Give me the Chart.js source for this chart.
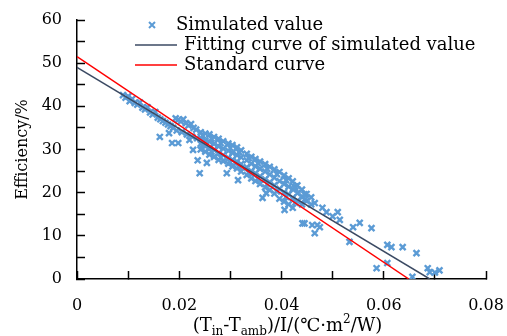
<!DOCTYPE html>
<html>
<head>
<meta charset="utf-8">
<script src="https://cdn.jsdelivr.net/npm/chart.js@4/dist/chart.umd.min.js"></script>
<style>
  body { margin: 0; background: #fff; }
  canvas { display: block; }
</style>
</head>
<body>
<canvas id="chart" width="507" height="336"></canvas>
<script>
// Simulated efficiency points [x, y]
const simulated = [
  [0.0090, 42.6], [0.0095, 42.0], [0.0100, 42.3], [0.0103, 41.2], [0.0108, 41.7], [0.0113, 40.8],
  [0.0118, 40.4], [0.0123, 40.9], [0.0128, 39.7], [0.0133, 39.3], [0.0138, 39.8], [0.0143, 38.6],
  [0.0148, 38.1], [0.0153, 38.7], [0.0158, 37.4], [0.0163, 37.0], [0.0168, 36.6], [0.0173, 36.2],
  [0.0178, 35.8], [0.0183, 35.4], [0.0188, 35.0],
  [0.0193, 37.2], [0.0198, 36.9], [0.0203, 36.5], [0.0208, 37.0], [0.0213, 36.1], [0.0218, 35.6],
  [0.0223, 35.9], [0.0228, 35.0], [0.0233, 34.6],
  [0.0195, 34.4], [0.0205, 34.0], [0.0215, 33.5], [0.0225, 33.0], [0.0235, 32.6],
  [0.0162, 32.9], [0.0180, 33.8], [0.0186, 31.5], [0.0198, 31.5], [0.0220, 32.2], [0.0227, 29.9],
  [0.0236, 27.5], [0.0254, 26.9], [0.0240, 24.5], [0.0293, 24.5], [0.0315, 22.9],
  [0.0242, 34.0], [0.0242, 32.6], [0.0242, 31.3], [0.0242, 30.0],
  [0.0251, 33.7], [0.0251, 32.1], [0.0251, 30.8], [0.0251, 29.5],
  [0.0259, 33.5], [0.0259, 31.8], [0.0259, 30.2], [0.0259, 28.8],
  [0.0268, 32.9], [0.0268, 31.3], [0.0268, 29.9], [0.0268, 28.3],
  [0.0277, 32.5], [0.0277, 30.7], [0.0277, 29.1], [0.0277, 27.6],
  [0.0286, 31.9], [0.0286, 30.2], [0.0286, 28.7], [0.0286, 27.3],
  [0.0296, 31.4], [0.0296, 29.7], [0.0296, 28.1], [0.0296, 26.7],
  [0.0304, 31.0], [0.0304, 29.2], [0.0304, 27.6], [0.0304, 26.1],
  [0.0313, 30.5], [0.0313, 28.7], [0.0313, 27.2], [0.0313, 25.6],
  [0.0321, 29.8], [0.0321, 28.2], [0.0321, 26.6], [0.0321, 24.9],
  [0.0332, 29.0], [0.0332, 27.5], [0.0332, 25.9], [0.0332, 24.1],
  [0.0341, 28.3], [0.0341, 26.7], [0.0341, 25.0], [0.0341, 23.3],
  [0.0349, 27.8], [0.0349, 26.1], [0.0349, 24.5], [0.0349, 22.7],
  [0.0358, 27.2], [0.0358, 25.5], [0.0358, 23.8], [0.0358, 22.0],
  [0.0368, 26.6], [0.0368, 24.9], [0.0368, 23.1], [0.0368, 21.2],
  [0.0377, 26.0], [0.0377, 24.2], [0.0377, 22.4], [0.0377, 20.6],
  [0.0386, 25.4], [0.0386, 23.5], [0.0386, 21.7], [0.0386, 19.8],
  [0.0396, 24.8], [0.0396, 22.7], [0.0396, 20.9], [0.0396, 18.6],
  [0.0405, 24.0], [0.0405, 22.0], [0.0405, 20.1], [0.0405, 17.9],
  [0.0414, 23.3], [0.0414, 21.4], [0.0414, 19.6], [0.0414, 17.3],
  [0.0422, 22.6], [0.0422, 20.8], [0.0422, 18.8], [0.0422, 16.5],
  [0.0431, 21.7], [0.0431, 19.9], [0.0431, 18.1],
  [0.0440, 20.7], [0.0440, 19.1], [0.0440, 17.3],
  [0.0449, 19.7], [0.0449, 18.1], [0.0458, 18.9], [0.0458, 17.3],
  [0.0246, 33.2], [0.0246, 31.0], [0.0263, 32.5], [0.0263, 29.5], [0.0281, 31.5], [0.0281, 28.2],
  [0.0300, 30.3], [0.0300, 27.0], [0.0317, 29.4], [0.0317, 26.0], [0.0336, 28.0], [0.0336, 24.6],
  [0.0354, 26.8], [0.0354, 23.2], [0.0372, 25.5], [0.0372, 22.0], [0.0391, 24.3], [0.0391, 20.3],
  [0.0409, 22.9], [0.0409, 19.0], [0.0427, 21.4], [0.0427, 17.7], [0.0445, 19.6], [0.0445, 18.4],
  [0.0363, 18.8], [0.0370, 19.9], [0.0406, 16.0], [0.0426, 21.0], [0.0441, 19.0], [0.0465, 17.6],
  [0.0480, 16.5], [0.0445, 12.9], [0.0441, 12.9], [0.0460, 12.5], [0.0465, 10.6], [0.0475, 12.0],
  [0.0470, 12.5], [0.0488, 15.5], [0.0510, 15.5], [0.0514, 13.7], [0.0500, 14.5], [0.0553, 13.0],
  [0.0540, 12.0], [0.0576, 11.8], [0.0533, 8.6], [0.0607, 7.9], [0.0615, 7.4], [0.0637, 7.4],
  [0.0664, 6.0], [0.0586, 2.5], [0.0607, 3.7], [0.0656, 0.5], [0.0686, 2.5], [0.0690, 1.6],
  [0.0709, 2.0], [0.0700, 1.5]
];

// Fitted and standard straight lines (end points)
const fitX = [0, 0.069];
const fitY = [49.0, 0];
const stdX = [0, 0.0649];
const stdY = [51.5, 0];

const seriesNames = ["Simulated value", "Fitting curve of simulated value", "Standard curve"];
const seriesColors = ["rgb(91,155,213)", "#3b4a63", "#ff0000"];

const FONT = "'DejaVu Serif', 'Liberation Serif', serif";

function toPoints(xs, ys) {
    return xs.map((v, i) => ({x: v, y: ys[i]}));
}

// draws the legend inside the plot and the x title with subscripts
const decorPlugin = {
    id: "decor",
    afterDraw(chart) {
        let ctx = chart.ctx;
        let area = chart.chartArea;
        ctx.save();

        // legend
        ctx.font = "18px " + FONT;
        ctx.textBaseline = "middle";
        ctx.fillStyle = "#000";
        let rows = [25, 45, 65];
        chart.data.datasets.forEach((ds, i) => {
            let cy = rows[i];
            ctx.strokeStyle = ds.borderColor;
            ctx.beginPath();
            if (i === 0) {
                ctx.lineWidth = 2;
                ctx.moveTo(149, cy - 3); ctx.lineTo(155, cy + 3);
                ctx.moveTo(155, cy - 3); ctx.lineTo(149, cy + 3);
                ctx.stroke();
                ctx.fillText(ds.label, 176, cy);
            } else {
                ctx.lineWidth = 1.5;
                ctx.moveTo(135, cy); ctx.lineTo(177, cy);
                ctx.stroke();
                ctx.fillText(ds.label, 184, cy);
            }
        });

        // x axis title: (T_in-T_amb)/I/(℃·m²/W)
        let parts = [["(T", 0], ["in", 1], ["-T", 0], ["amb", 1], [")/I/(℃·m", 0], ["2", 2], ["/W)", 0]];
        let total = 0;
        parts.forEach(p => {
            ctx.font = (p[1] ? "12px " : "18px ") + FONT;
            total += ctx.measureText(p[0]).width;
        });
        let x0 = (area.left + area.right) / 2 - total / 2 + 6;
        let base = 331;
        ctx.textBaseline = "alphabetic";
        parts.forEach(p => {
            ctx.font = (p[1] ? "12px " : "18px ") + FONT;
            let dy = p[1] === 1 ? 4 : (p[1] === 2 ? -8 : 0);
            ctx.fillText(p[0], x0, base + dy);
            x0 += ctx.measureText(p[0]).width;
        });

        ctx.restore();
    }
};

// tick marks point into the plot: negative tick length
const innerGrid = {
    display: true,
    drawOnChartArea: false,
    drawTicks: true,
    tickLength: -8,
    tickWidth: 1.5,
    tickColor: "#000"
};

new Chart(document.getElementById("chart"), {
    type: "scatter",
    data: {
        datasets: [
            {
                label: seriesNames[0],
                data: simulated.map(p => ({x: p[0], y: p[1]})),
                pointStyle: "crossRot",
                pointRadius: 4.2,
                borderColor: seriesColors[0],
                backgroundColor: seriesColors[0],
                pointBorderWidth: 2.4,
                order: 2
            },
            {
                label: seriesNames[1],
                type: "line",
                data: toPoints(fitX, fitY),
                borderColor: seriesColors[1],
                borderWidth: 1.5,
                pointRadius: 0,
                order: 1
            },
            {
                label: seriesNames[2],
                type: "line",
                data: toPoints(stdX, stdY),
                borderColor: seriesColors[2],
                borderWidth: 1.5,
                pointRadius: 0,
                order: 0
            }
        ]
    },
    options: {
        responsive: false,
        animation: false,
        devicePixelRatio: 1,
        layout: {
            padding: {top: 20, right: 21, left: 7, bottom: 0}
        },
        plugins: {
            legend: {display: false},
            tooltip: {enabled: false}
        },
        scales: {
            x: {
                type: "linear",
                min: 0,
                max: 0.08,
                // fixed axis box, no extra label padding at the ends
                afterFit: s => { s.height = 57; s.paddingLeft = 0; s.paddingRight = 0; },
                border: {display: true, color: "#000", width: 1.5},
                grid: innerGrid,
                ticks: {
                    stepSize: 0.01,
                    autoSkip: false,
                    maxRotation: 0,
                    padding: 25,
                    color: "#000",
                    font: {family: FONT, size: 16},
                    callback: v => {
                        let k = Math.round(v * 100);
                        if (k % 2 !== 0) return "";
                        return k === 0 ? "0" : (k / 100).toFixed(2);
                    }
                }
            },
            y: {
                min: 0,
                max: 60,
                afterFit: s => { s.width = 70; s.paddingTop = 0; s.paddingBottom = 0; },
                border: {display: true, color: "#000", width: 1.5},
                grid: innerGrid,
                ticks: {
                    stepSize: 5,
                    autoSkip: false,
                    padding: 23,
                    color: "#000",
                    font: {family: FONT, size: 16},
                    callback: v => (v % 10 === 0 ? String(v) : "")
                },
                title: {
                    display: true,
                    text: "Efficiency/%",
                    color: "#000",
                    font: {family: FONT, size: 16},
                    padding: {top: 6, bottom: 4}
                }
            }
        }
    },
    plugins: [decorPlugin]
});
</script>
</body>
</html>
